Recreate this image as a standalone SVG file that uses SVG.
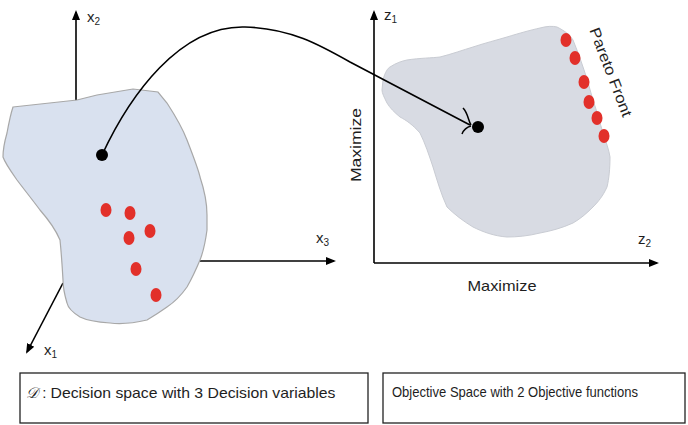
<svg xmlns="http://www.w3.org/2000/svg" width="688" height="425" viewBox="0 0 688 425">
<style>
.ax{stroke:#000;stroke-width:1.6;fill:none}
.lbl{font-family:"Liberation Sans",Arial,sans-serif;font-size:15px;fill:#1e1e1e}
.sub{font-size:10px}
.red{fill:#e2302a}
.box{fill:#fff;stroke:#222;stroke-width:1.3}
</style>
<defs>
<marker id="ah" markerWidth="10" markerHeight="10" refX="8" refY="5" orient="auto" markerUnits="userSpaceOnUse">
<path d="M0,1 L10,5 L0,9 Z" fill="#000"/>
</marker>
</defs>
<rect width="688" height="425" fill="#fff"/>
<g id="axes-left">
<line class="ax" x1="76" y1="102" x2="76" y2="12" marker-end="url(#ah)"/>
<line class="ax" x1="63" y1="283" x2="27" y2="352" marker-end="url(#ah)"/>
<line class="ax" x1="198" y1="261" x2="334" y2="261" marker-end="url(#ah)"/>
<text class="lbl" x="87" y="22">x<tspan class="sub" dy="3">2</tspan></text>
<text class="lbl" x="44" y="355">x<tspan class="sub" dy="3">1</tspan></text>
<text class="lbl" x="316" y="243">x<tspan class="sub" dy="3">3</tspan></text>
</g>
<g id="decision-space">
<path d="M13,107 L77,100 L97,95 L133,89 L158,92 L167,103 C178,120 184,132 187,140 C194,158 199,172 200,177 C205,192 207,205 207,215 L207,230 C205,245 202,255 200,260 C195,272 191,280 187,287 C180,297 173,303 167,307 C160,312 152,317 147,320 C130,324 118,324 110,323 C95,322 86,320 80,317 C72,312 68,308 67,303 C64,293 63,287 63,280 C62,262 61,250 60,240 C55,228 47,218 40,210 C31,198 23,188 17,180 C10,170 5,163 3,157 C3,148 5,140 7,133 C9,122 11,113 13,107 Z" fill="#d9e1ef" stroke="#a8a8a8" stroke-width="1.2"/>
<circle cx="102" cy="155" r="6" fill="#000"/>
<ellipse class="red" cx="106" cy="210" rx="5.5" ry="7"/>
<ellipse class="red" cx="130" cy="213" rx="5.5" ry="7"/>
<ellipse class="red" cx="150" cy="231" rx="5.5" ry="7"/>
<ellipse class="red" cx="129" cy="238" rx="5.5" ry="7"/>
<ellipse class="red" cx="136" cy="269" rx="5.5" ry="7"/>
<ellipse class="red" cx="156" cy="295" rx="5.5" ry="7"/>
</g>
<g id="axes-right">
<line class="ax" x1="374" y1="263" x2="374" y2="12" marker-end="url(#ah)"/>
<line class="ax" x1="374" y1="263" x2="657" y2="263" marker-end="url(#ah)"/>
<text class="lbl" x="384" y="20">z<tspan class="sub" dy="3">1</tspan></text>
<text class="lbl" x="638" y="244">z<tspan class="sub" dy="3">2</tspan></text>
<text class="lbl" x="361" y="145" text-anchor="middle" font-size="16.5" textLength="74" lengthAdjust="spacingAndGlyphs" transform="rotate(-90 361 145)">Maximize</text>
<text class="lbl" x="502" y="291" text-anchor="middle" font-size="16.5" textLength="69" lengthAdjust="spacingAndGlyphs">Maximize</text>
</g>
<g id="objective-space">
<path d="M383,80 C385,72 388,68 390,67 C396,63 402,61 407,60 C420,58 432,58 440,57 C452,54 463,50 473,47 C485,43 497,40 507,37 C520,33 531,30 540,28 C547,26 553,26 557,27 C565,31 570,35 573,40 C577,50 580,58 583,67 C587,78 590,90 593,100 C597,112 600,123 603,133 C606,142 609,150 610,157 C610,168 609,179 607,187 C603,196 598,202 593,207 C586,214 580,219 573,223 C562,228 551,231 540,233 C528,236 517,237 507,237 C494,236 483,232 473,227 C463,221 454,214 447,207 C441,194 437,180 433,167 C429,155 425,143 420,133 C413,125 406,120 400,117 C394,112 390,108 387,103 C384,97 382,93 382,90 Z" fill="#d8dbe3" stroke="#c9ccd3" stroke-width="1"/>
<circle cx="478" cy="127" r="6" fill="#000"/>
<ellipse class="red" cx="566" cy="40" rx="5.5" ry="7"/>
<ellipse class="red" cx="575" cy="58" rx="5.5" ry="7"/>
<ellipse class="red" cx="584" cy="82" rx="5.5" ry="7"/>
<ellipse class="red" cx="589" cy="102" rx="5.5" ry="7"/>
<ellipse class="red" cx="597" cy="118" rx="5.5" ry="7"/>
<ellipse class="red" cx="604" cy="136" rx="5.5" ry="7"/>
<text class="lbl" x="606" y="74" text-anchor="middle" font-size="16" textLength="94" lengthAdjust="spacingAndGlyphs" transform="rotate(69 606 74)">Pareto Front</text>
</g>
<g id="connectors">
<path d="M102,155 C130,95 180,25 245,27 C290,28 320,45 350,62 L470,125" fill="none" stroke="#000" stroke-width="1.6"/>
<path d="M463,108 C468,113 468,120 471,125 M462,134 C464,129 467,127 471,126" fill="none" stroke="#000" stroke-width="1.5"/>
</g>
<g id="caption-left">
<rect class="box" x="20" y="373" width="348" height="50"/>
<text class="lbl" x="26" y="398" font-size="15.5"><tspan font-family="'Liberation Serif',serif" font-style="italic">𝒟</tspan> : <tspan textLength="285" lengthAdjust="spacingAndGlyphs">Decision space with 3 Decision variables</tspan></text>
</g>
<g id="caption-right">
<rect class="box" x="383" y="373" width="302" height="50"/>
<text class="lbl" x="392" y="397" font-size="14.5" textLength="246" lengthAdjust="spacingAndGlyphs">Objective Space with 2 Objective functions</text>
</g>
</svg>
